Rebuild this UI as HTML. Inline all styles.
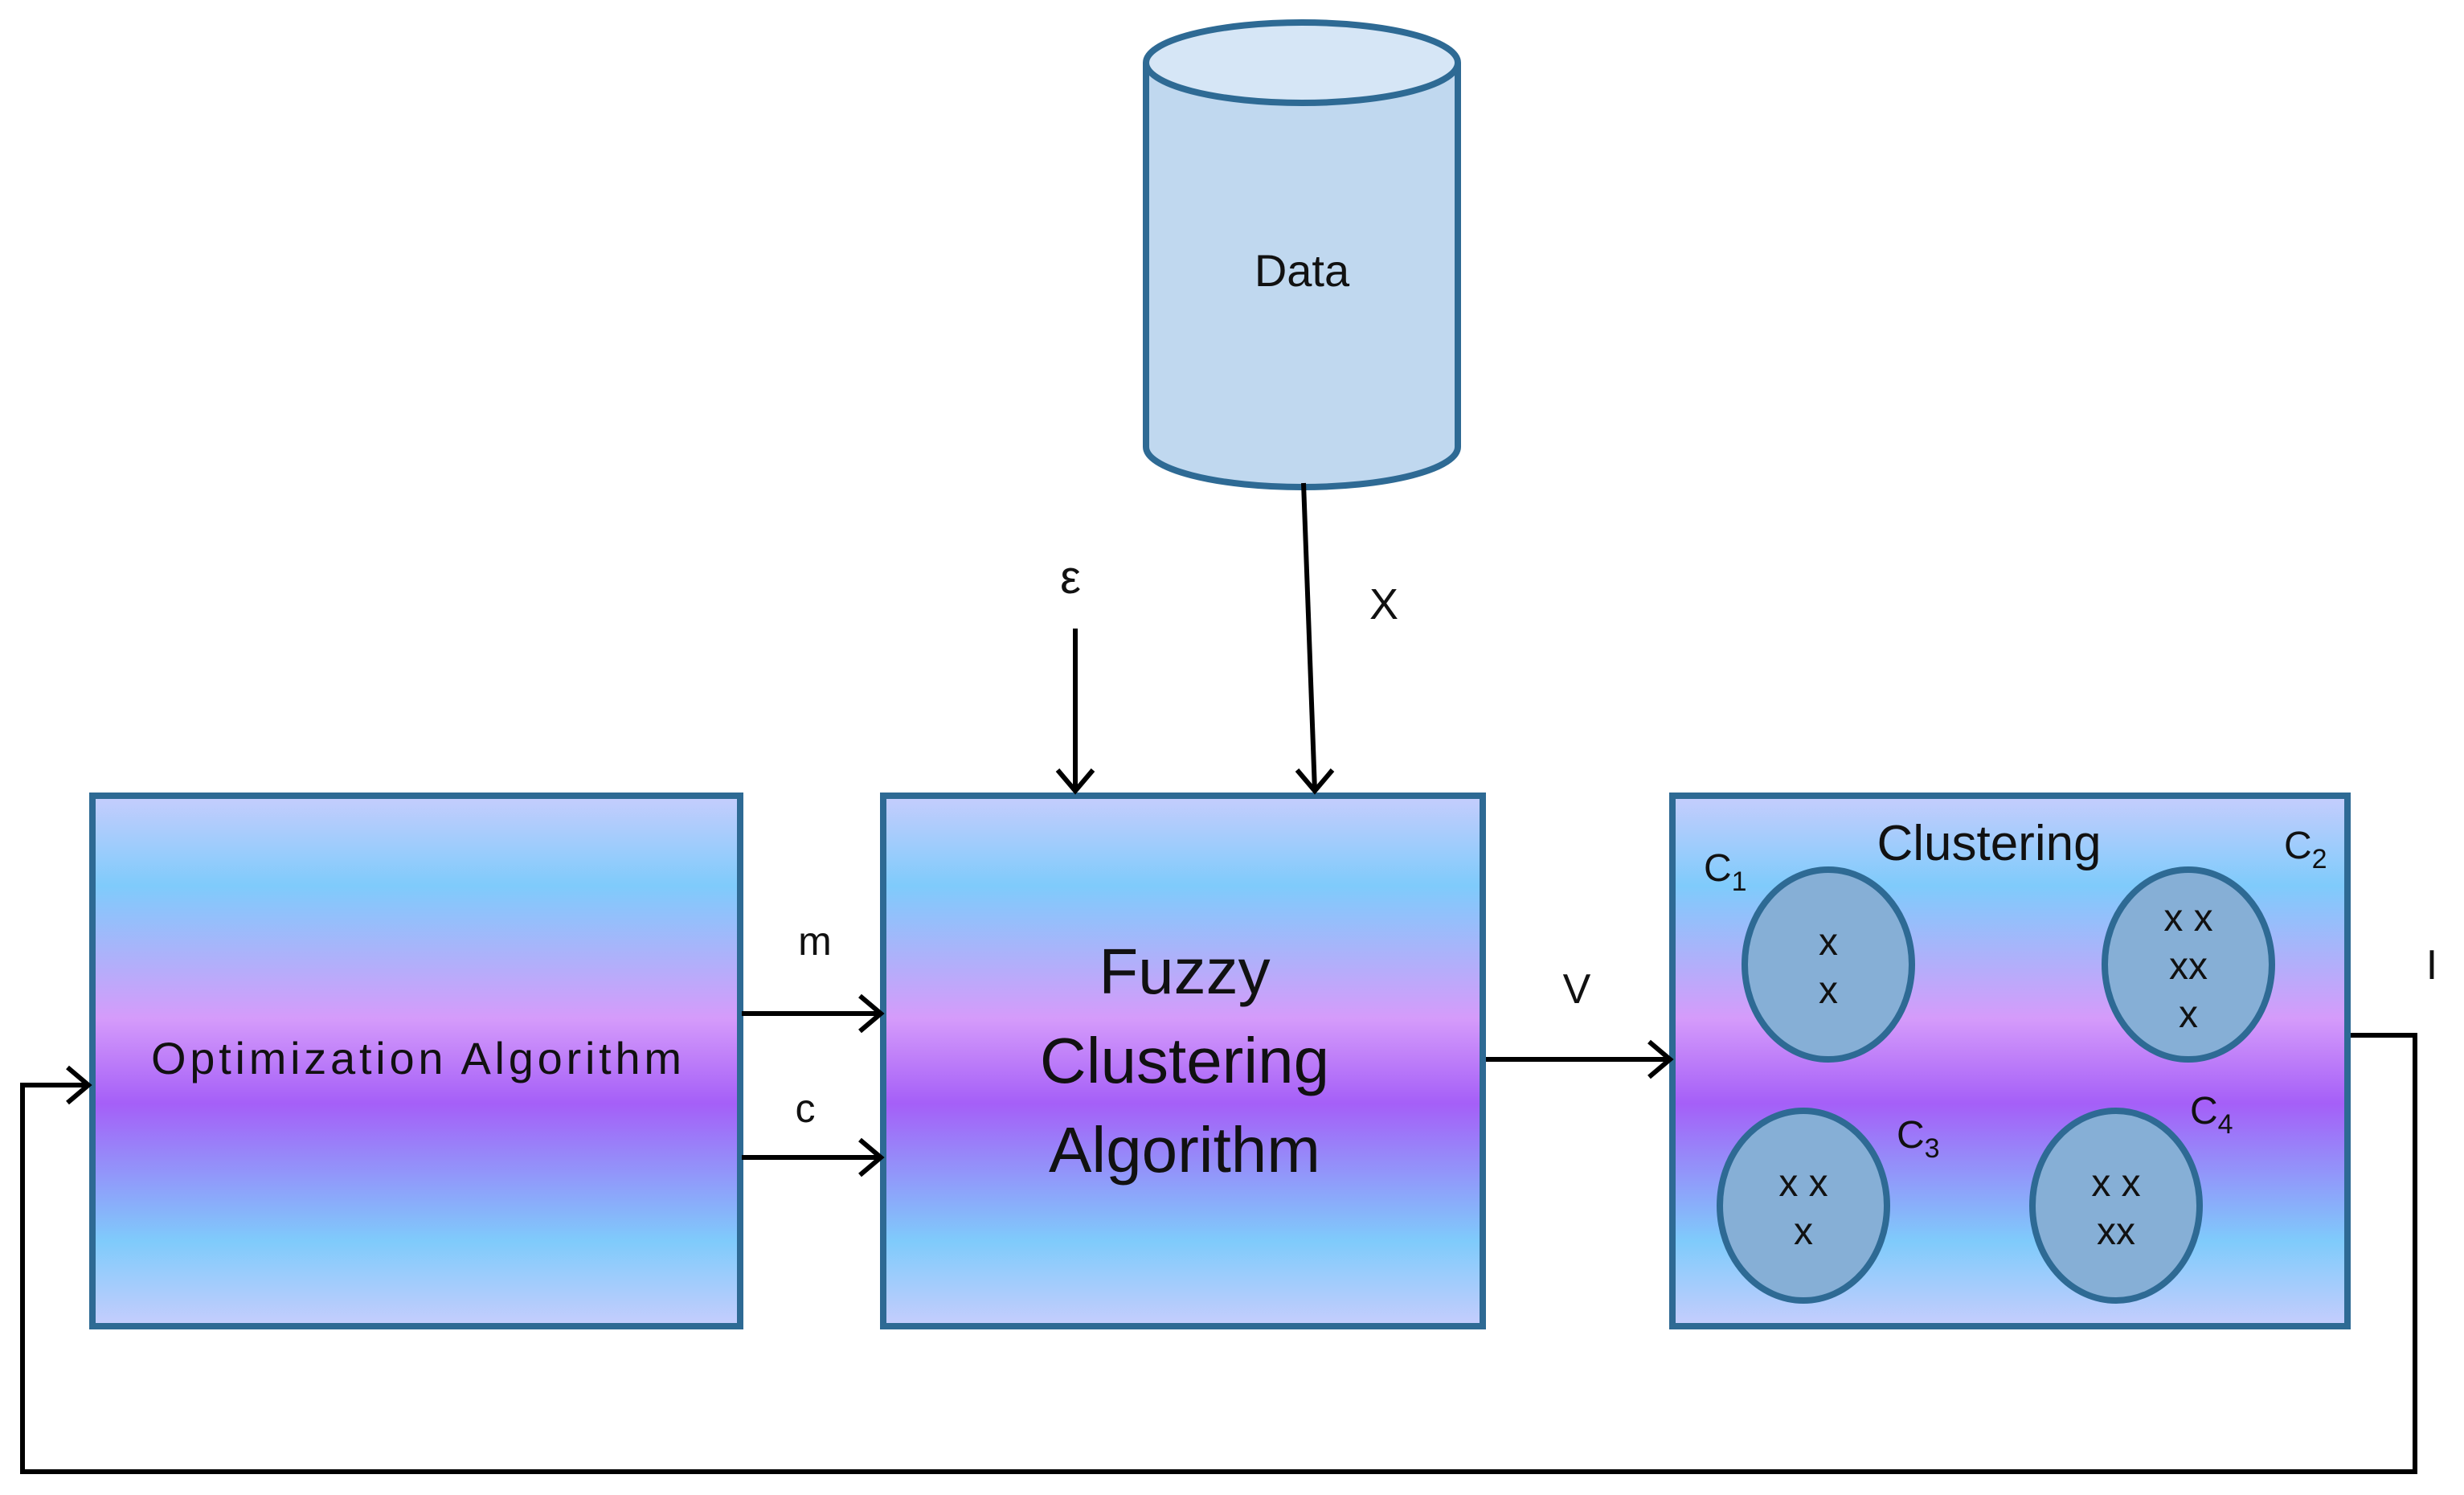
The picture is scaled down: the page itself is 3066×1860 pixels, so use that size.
<!DOCTYPE html>
<html><head><meta charset="utf-8"><style>
html,body{margin:0;padding:0;background:#fff;}
svg{display:block;}
text{font-family:"Liberation Sans",sans-serif;fill:#111;}
</style></head><body>
<svg width="3066" height="1860" viewBox="0 0 3066 1860" xmlns="http://www.w3.org/2000/svg">
<defs>
<linearGradient id="g" x1="0" y1="0" x2="0" y2="1">
<stop offset="0" stop-color="#c6cdfd"/>
<stop offset="0.17" stop-color="#7fcbfb"/>
<stop offset="0.42" stop-color="#d59bfa"/>
<stop offset="0.58" stop-color="#a55ff8"/>
<stop offset="0.84" stop-color="#7fcbfb"/>
<stop offset="1" stop-color="#c6cdfd"/>
</linearGradient>
</defs>
<!-- boxes -->
<rect x="115" y="990" width="806" height="660" fill="url(#g)" stroke="#2e6a94" stroke-width="8"/>
<rect x="1099" y="990" width="746" height="660" fill="url(#g)" stroke="#2e6a94" stroke-width="8"/>
<rect x="2081" y="990" width="840" height="660" fill="url(#g)" stroke="#2e6a94" stroke-width="8"/>

<!-- cylinder -->
<path d="M1426 78 L1426 556 A194 50 0 0 0 1814 556 L1814 78" fill="#c0d8ef" stroke="#2e6a94" stroke-width="8"/>
<ellipse cx="1620" cy="78" rx="194" ry="50" fill="#d6e6f6" stroke="#2e6a94" stroke-width="8"/>
<text x="1620" y="356" font-size="56" text-anchor="middle">Data</text>

<!-- arrows -->
<g stroke="#000" stroke-width="6" fill="none">
<line x1="1338" y1="782" x2="1338" y2="984"/>
<polyline points="1316,958 1338,984 1360,958"/>
<line x1="1622" y1="601" x2="1636" y2="984"/>
<polyline points="1614,958 1636,984 1658,958"/>
<line x1="923" y1="1261" x2="1096" y2="1261"/>
<polyline points="1070,1239 1096,1261 1070,1283"/>
<line x1="923" y1="1440" x2="1096" y2="1440"/>
<polyline points="1070,1418 1096,1440 1070,1462"/>
<line x1="1849" y1="1318" x2="2078" y2="1318"/>
<polyline points="2052,1296 2078,1318 2052,1340"/>
<polyline points="2925,1288 3005,1288 3005,1831 28,1831 28,1350 110,1350"/>
<polyline points="84,1328 110,1350 84,1372"/>
</g>

<!-- labels -->
<text x="1332" y="738" font-size="58" text-anchor="middle">ε</text>
<text x="1722" y="770" font-size="54" text-anchor="middle">X</text>
<text x="1014" y="1188" font-size="50" text-anchor="middle">m</text>
<text x="1002" y="1396" font-size="50" text-anchor="middle">c</text>
<text x="1962" y="1248" font-size="52" text-anchor="middle">V</text>
<text x="3026" y="1218" font-size="52" text-anchor="middle">I</text>

<text x="518" y="1336" font-size="56" text-anchor="middle" textLength="660">Optimization Algorithm</text>
<g font-size="80" text-anchor="middle">
<text x="1474" y="1236">Fuzzy</text>
<text x="1474" y="1347">Clustering</text>
<text x="1474" y="1458">Algorithm</text>
</g>

<!-- clusters -->
<g fill="#86afd6" stroke="#2e6a94" stroke-width="8">
<ellipse cx="2275" cy="1200" rx="104" ry="118"/>
<ellipse cx="2723" cy="1200" rx="104" ry="118"/>
<ellipse cx="2244" cy="1500" rx="104" ry="118"/>
<ellipse cx="2633" cy="1500" rx="104" ry="118"/>
</g>
<text x="2475" y="1070" font-size="62" text-anchor="middle">Clustering</text>
<text x="2120" y="1096" font-size="48">C<tspan font-size="34" dy="12">1</tspan></text>
<text x="2842" y="1068" font-size="48">C<tspan font-size="34" dy="12">2</tspan></text>
<text x="2360" y="1428" font-size="48">C<tspan font-size="34" dy="12">3</tspan></text>
<text x="2725" y="1398" font-size="48">C<tspan font-size="34" dy="12">4</tspan></text>
<g font-size="48" text-anchor="middle">
<text x="2275" y="1188">x</text>
<text x="2275" y="1248">x</text>
<text x="2723" y="1158">x x</text>
<text x="2723" y="1218">xx</text>
<text x="2723" y="1278">x</text>
<text x="2244" y="1488">x x</text>
<text x="2244" y="1548">x</text>
<text x="2633" y="1488">x x</text>
<text x="2633" y="1548">xx</text>
</g>
</svg>
</body></html>
